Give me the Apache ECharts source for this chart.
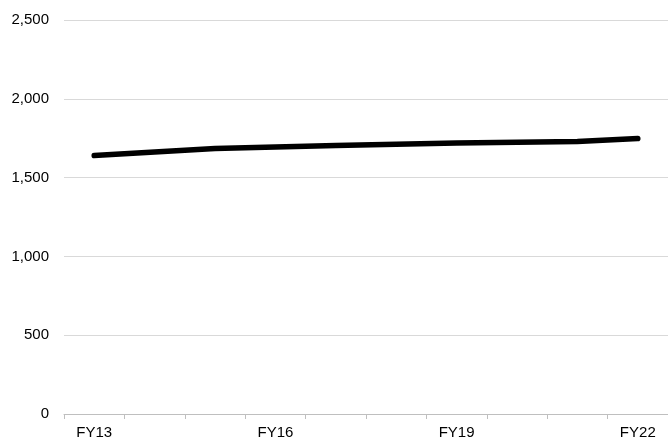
<!DOCTYPE html>
<html>
<head>
<meta charset="utf-8">
<script src="https://cdn.jsdelivr.net/npm/echarts@6/dist/echarts.min.js"></script>
<style>html,body{margin:0;padding:0;background:#fff;}#c{width:668px;height:440px;}</style>
</head>
<body>
<div id="c"></div>
<script>
const categories = ['FY13','FY14','FY15','FY16','FY17','FY18','FY19','FY20','FY21','FY22'];
const values = [1640, 1662, 1684, 1694, 1703, 1712, 1719, 1725, 1729, 1748];
const yMin = 0, yMax = 2500, yStep = 500;

const chart = echarts.init(document.getElementById('c'));
chart.setOption({
  animation: false,
  grid: { left: 64, right: 0, top: 20, bottom: 26 },
  xAxis: {
    type: 'category',
    data: categories,
    boundaryGap: true,
    axisLine: { lineStyle: { color: '#bfbfbf', width: 1 } },
    axisTick: { show: true, interval: 0, length: 5, lineStyle: { color: '#bfbfbf' } },
    axisLabel: { interval: 2, color: '#000', fontFamily: 'Liberation Sans', fontSize: 15, margin: 11 },
    splitLine: { show: false }
  },
  yAxis: {
    type: 'value',
    min: yMin, max: yMax, interval: yStep,
    axisLine: { show: false },
    axisTick: { show: false },
    axisLabel: {
      color: '#000', fontFamily: 'Liberation Sans', fontSize: 15, margin: 15,
      formatter: v => v.toLocaleString('en-US')
    },
    splitLine: { lineStyle: { color: '#d9d9d9', width: 1 } }
  },
  series: [{
    type: 'line',
    data: values,
    symbol: 'none',
    lineStyle: { color: '#000', width: 5.5, cap: 'round', join: 'round' }
  }]
});
</script>
</body>
</html>
